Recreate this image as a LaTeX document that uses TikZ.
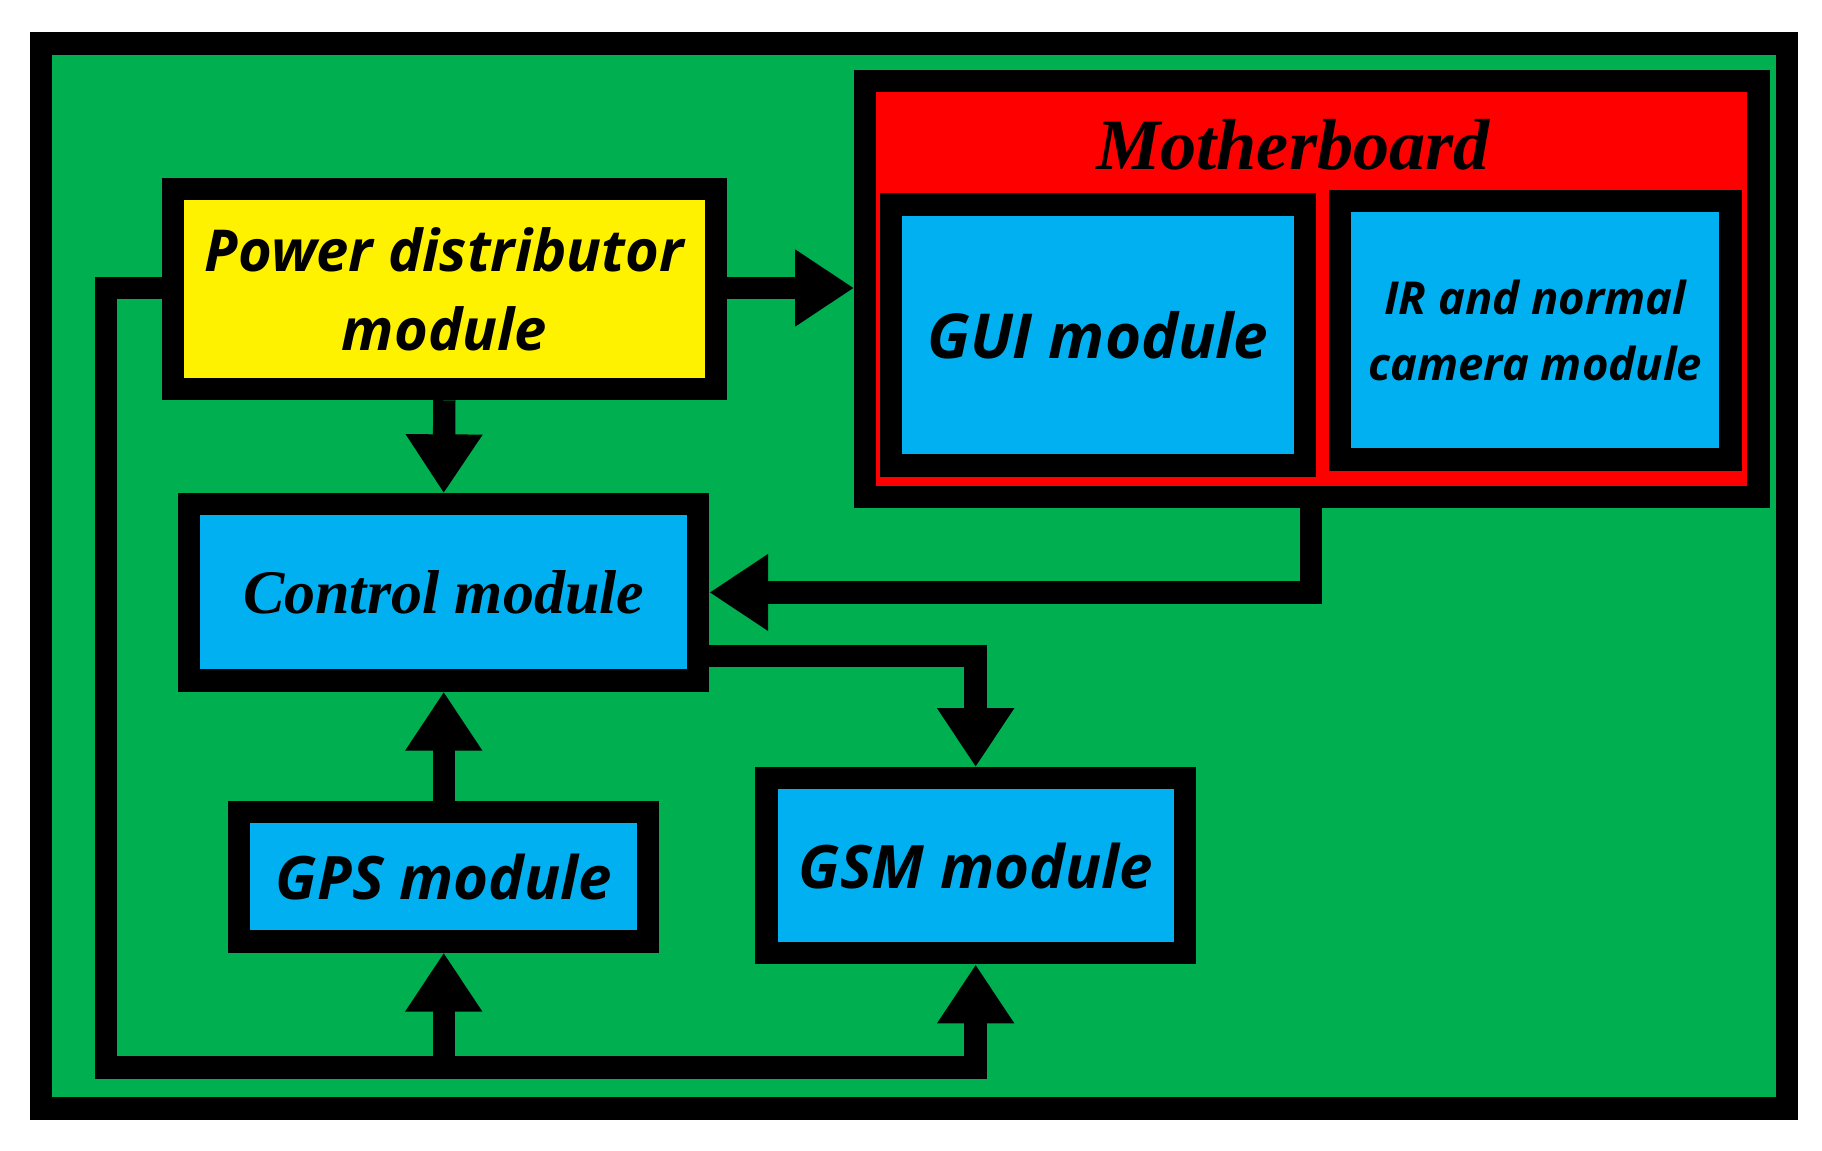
\documentclass[tikz,border=0pt]{standalone}
\usepackage{fontspec}
\setmainfont{Liberation Serif}
\newfontfamily\osans{Open Sans}
\usetikzlibrary{arrows.meta}
\definecolor{pcbgreen}{RGB}{0,176,80}
\definecolor{modblue}{RGB}{0,176,240}
\begin{document}
\begin{tikzpicture}[x=1cm,y=1cm,
  box/.style={draw=black,line width=0.19cm,rectangle,inner sep=0pt,align=center},
  st/.style={font=\osans\bfseries\itshape\fontsize{14.5}{17}\selectfont},
  sr/.style={font=\bfseries\itshape\fontsize{15}{18}\selectfont},
  conn/.style={line width=0.19cm,-{Triangle[length=0.5cm,width=0.62cm]}},
  lin/.style={line width=0.19cm}]
\useasboundingbox (0,0) rectangle (15.5,-9.785);
\node[box,fill=pcbgreen,minimum width=14.85cm,minimum height=9.06cm] (bg) at (7.775,-4.9) {};
\node[box,fill=red,minimum width=7.60cm,minimum height=3.54cm] (mb) at (11.16,-2.46) {};
\node[font=\bfseries\itshape\fontsize{17.5}{20}\selectfont] (mbt) at (11.0,-1.23) {Motherboard};
\node[box,fill=modblue,minimum width=3.52cm,minimum height=2.22cm,font=\osans\bfseries\itshape\fontsize{15}{18}\selectfont] (gui) at (9.34,-2.85) {GUI module};
\node[box,fill=modblue,minimum width=3.32cm,minimum height=2.20cm,font=\osans\bfseries\itshape\fontsize{11}{16}\selectfont] (ir) at (13.06,-2.81) {IR and normal\\camera module};
\node[box,fill=yellow,minimum width=4.62cm,minimum height=1.70cm,font=\osans\bfseries\itshape\fontsize{14}{19}\selectfont] (pd) at (3.78,-2.46) {Power distributor\\module};
\node[box,fill=modblue,minimum width=4.33cm,minimum height=1.50cm,sr] (ctrl) at (3.775,-5.04) {Control module};
\node[box,fill=modblue,minimum width=3.48cm,minimum height=1.10cm,st] (gps) at (3.775,-7.46) {GPS module};
\node[box,fill=modblue,minimum width=3.56cm,minimum height=1.49cm,st] (gsm) at (8.30,-7.365) {GSM module};
\coordinate (mbo) at (11.15,-4.32);
\coordinate (c1) at (8.30,-5.58);
\coordinate (l1) at (0.9,-2.45);
\coordinate (l2) at (0.9,-9.08);
\coordinate (b1) at (3.775,-9.08);
\coordinate (b2) at (8.30,-9.08);
\draw[conn] (pd.east |- 0,-2.45) -- (mb.west |- 0,-2.45);
\draw[conn] (pd.south) -- (ctrl.north);
\draw[conn] (mbo) |- (ctrl.east);
\draw[conn] (ctrl.east |- c1) -| (gsm.north);
\draw[conn] (gps.north) -- (ctrl.south);
\draw[lin] (pd.west |- l1) -- (l1) -- (l2) -- ([xshift=0.095cm]b2);
\draw[conn] (b1) -- (gps.south);
\draw[conn] (b2) -- (gsm.south);
\end{tikzpicture}
\end{document}
